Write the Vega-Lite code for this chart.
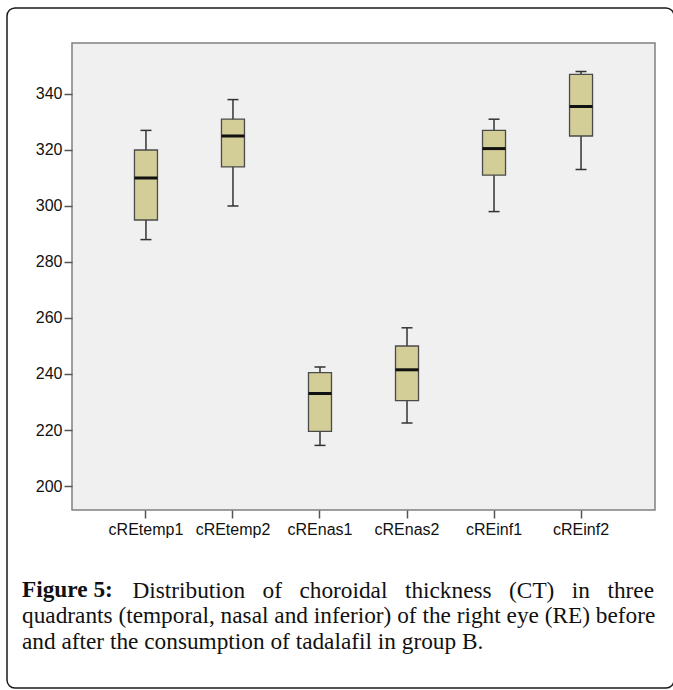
{
  "$schema": "https://vega.github.io/schema/vega-lite/v6.json",
  "width": 583,
  "height": 467,
  "autosize": {"type": "none"},
  "padding": {"left": 72, "top": 43, "right": 18, "bottom": 180},
  "background": "white",
  "config": {
    "view": {"fill": "#f0f0f0", "stroke": "#808080", "strokeWidth": 1.5},
    "axis": {
      "labelFont": "Liberation Sans",
      "labelFontSize": 16,
      "labelColor": "#111111",
      "tickColor": "#555555",
      "tickWidth": 1.5,
      "tickSize": 8,
      "domain": false,
      "grid": false
    }
  },
  "title": {
    "text": "Figure 5:",
    "subtitle": [
      "quadrants (temporal, nasal and inferior) of the right eye (RE) before",
      "and after the consumption of tadalafil in group B."
    ],
    "orient": "bottom",
    "anchor": "start",
    "frame": "group",
    "dx": -50,
    "offset": -110,
    "font": "Liberation Serif",
    "fontSize": 23.3,
    "fontWeight": "bold",
    "color": "#111111",
    "subtitleFont": "Liberation Serif",
    "subtitleFontSize": 23.3,
    "subtitleColor": "#111111",
    "subtitleLineHeight": 26,
    "subtitlePadding": 3
  },
  "layer": [
    {
      "data": {"values": [{}]},
      "mark": {"type": "rect", "fill": null, "stroke": "#1a1a1a", "strokeWidth": 1.5, "cornerRadius": 8, "clip": false},
      "encoding": {
        "x": {"value": -65},
        "x2": {"value": 602},
        "y": {"value": -35},
        "y2": {"value": 645}
      }
    },
    {
      "data": {"name": "boxes", "values": [
        {"var": "cREtemp1", "min": 288, "q1": 295, "median": 310, "q3": 320, "max": 327},
        {"var": "cREtemp2", "min": 300, "q1": 314, "median": 325, "q3": 331, "max": 338},
        {"var": "cREnas1", "min": 214.5, "q1": 219.5, "median": 233, "q3": 240.5, "max": 242.5},
        {"var": "cREnas2", "min": 222.5, "q1": 230.5, "median": 241.5, "q3": 250, "max": 256.5},
        {"var": "cREinf1", "min": 298, "q1": 311, "median": 320.5, "q3": 327, "max": 331},
        {"var": "cREinf2", "min": 313, "q1": 325, "median": 335.5, "q3": 347, "max": 348}
      ]},
      "encoding": {
        "x": {
          "field": "var",
          "type": "nominal",
          "sort": null,
          "scale": {"paddingInner": 0.5, "paddingOuter": 0.6},
          "axis": {
            "labelAngle": 0,
            "labelPadding": 3,
            "title": "Distribution\u00a0\u00a0 of\u00a0\u00a0 choroidal\u00a0\u00a0 thickness\u00a0\u00a0 (CT)\u00a0\u00a0 in\u00a0\u00a0 three",
            "titleFont": "Liberation Serif",
            "titleFontSize": 23.3,
            "titleFontWeight": "normal",
            "titleColor": "#111111",
            "titleAnchor": "start",
            "titleAlign": "left",
            "titleBaseline": "top",
            "titleX": 60,
            "titleY": 69
          }
        }
      },
      "layer": [
        {
          "mark": {"type": "rule", "color": "#333333", "strokeWidth": 1.5},
          "encoding": {
            "y": {
              "field": "min",
              "type": "quantitative",
              "scale": {"domain": [191.43, 358.21], "nice": false, "zero": false},
              "axis": {"values": [200, 220, 240, 260, 280, 300, 320, 340], "labelPadding": 2, "title": null}
            },
            "y2": {"field": "max"}
          }
        },
        {
          "mark": {"type": "bar", "size": 23, "fill": "#d3ce97", "stroke": "#4a4a4a", "strokeWidth": 1.3},
          "encoding": {
            "y": {"field": "q1", "type": "quantitative"},
            "y2": {"field": "q3"}
          }
        },
        {
          "mark": {"type": "tick", "size": 23, "thickness": 3, "color": "#111111", "opacity": 1},
          "encoding": {"y": {"field": "median", "type": "quantitative"}}
        },
        {
          "mark": {"type": "tick", "size": 11, "thickness": 1.5, "color": "#333333", "opacity": 1},
          "encoding": {"y": {"field": "min", "type": "quantitative"}}
        },
        {
          "mark": {"type": "tick", "size": 11, "thickness": 1.5, "color": "#333333", "opacity": 1},
          "encoding": {"y": {"field": "max", "type": "quantitative"}}
        }
      ]
    }
  ]
}
